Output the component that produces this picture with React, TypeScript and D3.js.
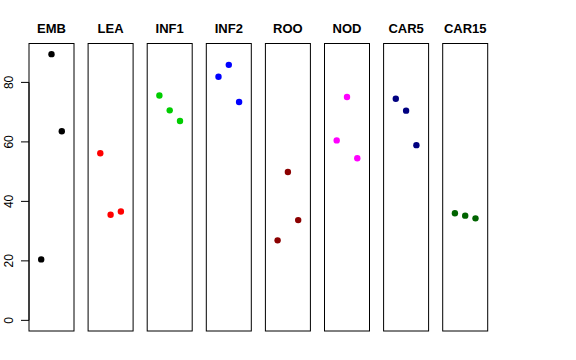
import React from "react";
import * as d3 from "d3";

const groups = ["EMB", "LEA", "INF1", "INF2", "ROO", "NOD", "CAR5", "CAR15"];
const colors = ["#000000", "#FF0000", "#00CD00", "#0000FF", "#8B0000", "#FF00FF", "#000080", "#006400"];
const values = [
  [20.5, 89.5, 63.6],
  [56.2, 35.5, 36.6],
  [75.6, 70.6, 67.0],
  [81.9, 85.9, 73.4],
  [26.9, 49.9, 33.7],
  [60.5, 75.1, 54.5],
  [74.5, 70.5, 58.9],
  [36.0, 35.2, 34.3],
];
const yTicks = [0, 20, 40, 60, 80];

const W = 576;
const H = 360;
const top = 43.5;
const bottom = 331;
const panelW = 45;
const firstX = 29;
const step = 59.1;

const App = () => {
  const maxV = d3.max(values.flat()) as number;
  const y = d3
    .scaleLinear()
    .domain([-0.04 * maxV, maxV * 1.04])
    .range([bottom, top]);

  return (
    <svg
      width={W}
      height={H}
      style={{ position: "absolute", left: 0, top: 0, background: "#fff" }}
      fontFamily="Liberation Sans, Arial, sans-serif"
    >
      {/* y axis */}
      <line x1={firstX} x2={firstX} y1={y(0)} y2={y(80)} stroke="#000" />
      {yTicks.map(t => (
        <g key={t} transform={`translate(${firstX},${y(t)})`}>
          <line x1={-8} x2={0} stroke="#000" />
          <text
            transform="translate(-16,0) rotate(-90)"
            textAnchor="middle"
            fontSize={12}
            fill="#000"
          >
            {t}
          </text>
        </g>
      ))}
      {groups.map((g, i) => {
        const x0 = firstX + i * step;
        const x = d3.scaleLinear().domain([-0.185, 4.185]).range([x0, x0 + panelW]);
        return (
          <g key={g}>
            <rect
              x={x0}
              y={top}
              width={panelW}
              height={bottom - top}
              fill="none"
              stroke="#000"
              strokeWidth={1}
            />
            <text
              x={x0 + panelW / 2}
              y={33}
              textAnchor="middle"
              fontSize={13}
              fontWeight="bold"
            >
              {g}
            </text>
            {values[i].map((v, j) => (
              <circle key={j} cx={x(j + 1)} cy={y(v)} r={3.2} fill={colors[i]} />
            ))}
          </g>
        );
      })}
    </svg>
  );
};

export default App;
